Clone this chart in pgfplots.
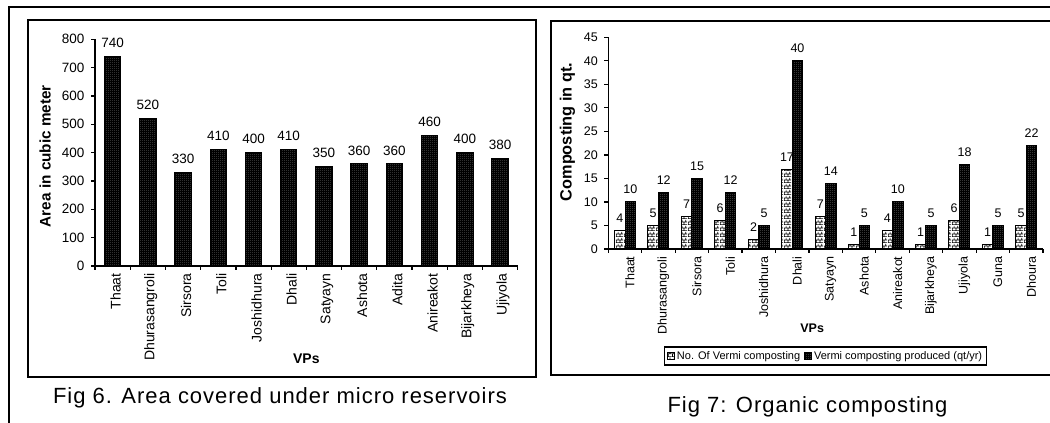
\documentclass[border=0pt]{standalone}
\usepackage{fontspec}
\setmainfont{Liberation Sans}
\newfontfamily\capfont[LetterSpace=4.5]{Liberation Sans}
\usepackage{pgfplots}
\pgfplotsset{compat=1.18}
\usetikzlibrary{patterns}

\pgfdeclarepatternformonly{fdots}{\pgfqpoint{0pt}{0pt}}{\pgfqpoint{2pt}{2pt}}{\pgfqpoint{2pt}{2pt}}{%
  \pgfpathrectangle{\pgfqpoint{0.6pt}{0.6pt}}{\pgfqpoint{0.7pt}{0.7pt}}\pgfusepathqfill}
\pgfdeclarepatternformonly{mybricks}{\pgfqpoint{0pt}{0pt}}{\pgfqpoint{8pt}{6pt}}{\pgfqpoint{8pt}{6pt}}{%
  \pgfsetlinewidth{0.8pt}%
  \pgfpathmoveto{\pgfqpoint{0pt}{0.4pt}}\pgfpathlineto{\pgfqpoint{8pt}{0.4pt}}%
  \pgfpathmoveto{\pgfqpoint{0pt}{3.4pt}}\pgfpathlineto{\pgfqpoint{8pt}{3.4pt}}%
  \pgfpathmoveto{\pgfqpoint{0.4pt}{0.4pt}}\pgfpathlineto{\pgfqpoint{0.4pt}{3.4pt}}%
  \pgfpathmoveto{\pgfqpoint{4.4pt}{0.4pt}}\pgfpathlineto{\pgfqpoint{4.4pt}{3.4pt}}%
  \pgfpathmoveto{\pgfqpoint{2.4pt}{3.4pt}}\pgfpathlineto{\pgfqpoint{2.4pt}{6pt}}%
  \pgfpathmoveto{\pgfqpoint{6.4pt}{3.4pt}}\pgfpathlineto{\pgfqpoint{6.4pt}{6pt}}%
  \pgfusepathqstroke}

\pgfplotstableread{
x val
0 740
1 520
2 330
3 410
4 400
5 410
6 350
7 360
8 360
9 460
10 400
11 380
}\areatable

\pgfplotstableread{
x num prod
0 4 10
1 5 12
2 7 15
3 6 12
4 2 5
5 17 40
6 7 14
7 1 5
8 4 10
9 1 5
10 6 18
11 1 5
12 5 22
}\comptable

\begin{document}
\begin{tikzpicture}[x=1pt,y=1pt]
\useasboundingbox (0,0) rectangle (1050,423);
% frames
\draw[line width=2pt] (9,0) -- (9,415.5) -- (1052,415.5);
\draw[line width=2pt] (27.5,46.3) rectangle (536,402.5);
\draw[line width=2pt] (1055,48) -- (551,48) -- (551,402.3) -- (1055,402.3);

\pgfplotsset{
  common/.style={
    scale only axis,
    axis x line*=bottom,
    axis y line*=left,
    axis line style={-, line width=1.6pt},
    tick align=outside,
    major tick length=4pt,
    ytick style={line width=1.2pt, black},
    xtick style={draw=none},
    extra x tick style={xtick style={draw=black, line width=1.2pt}},
    extra x tick labels={},
    ymin=0,
    clip=false,
    enlargelimits=false,
    /pgf/number format/assume math mode=true,
  }
}

% Left chart
\begin{axis}[common,
  at={(95pt,157pt)}, anchor=south west,
  width=422.7pt, height=226.7pt,
  xmin=-0.5, xmax=11.5, ymax=800,
  ytick={0,100,...,800},
  xtick={0,...,11},
  extra x ticks={-0.5,0.5,...,11.5},
  xticklabels={Thaat,Dhurasangroli,Sirsora,Toli,Joshidhura,Dhali,Satyayn,Ashota,Adita,Anireakot,Bijarkheya,Ujiyola},
  xticklabel style={rotate=90, anchor=east, font=\fontsize{14}{16}\selectfont, yshift=-3pt},
  yticklabel style={font=\fontsize{13.5}{15}\selectfont, xshift=-3pt},
  ylabel={\bfseries Area in cubic meter},
  ylabel style={at={(axis description cs:-0.118,0.485)}, anchor=center, font=\fontsize{15.3}{17}\selectfont},
  xlabel={\bfseries VPs},
  xlabel style={at={(axis description cs:0.5,-0.41)}, anchor=center, font=\fontsize{14}{16}\selectfont},
  nodes near coords,
  nodes near coords style={font=\fontsize{13.5}{15}\selectfont, anchor=south, yshift=5pt},
  point meta=explicit,
]
\addplot[ybar, bar width=16.5pt, draw=black, line width=1pt, fill=black,
  postaction={pattern=fdots, pattern color=black!55}]
  table[x=x, y=val, meta=val] {\areatable};
\end{axis}

% Right chart
\begin{axis}[common,
  at={(608.3pt,174pt)}, anchor=south west,
  width=434.7pt, height=211.7pt,
  xmin=-0.5, xmax=12.5, ymax=45,
  ytick={0,5,...,45},
  xtick={0,...,12},
  extra x ticks={-0.5,0.5,...,12.5},
  xticklabels={Thaat,Dhurasangroli,Sirsora,Toli,Joshidhura,Dhali,Satyayn,Ashota,Anireakot,Bijarkheya,Ujiyola,Guna,Dhoura},
  xticklabel style={rotate=90, anchor=east, font=\fontsize{12.5}{14}\selectfont, yshift=-5pt},
  yticklabel style={font=\fontsize{12.5}{14}\selectfont, xshift=-3pt},
  ylabel={\bfseries Composting in qt.},
  ylabel style={at={(axis description cs:-0.094,0.553)}, anchor=center, font=\fontsize{16.3}{18}\selectfont},
  xlabel={\bfseries VPs},
  xlabel style={at={(axis description cs:0.469,-0.373)}, anchor=center, font=\fontsize{12.5}{14}\selectfont},
  ybar=0pt, bar width=10.5pt,
  nodes near coords,
  nodes near coords style={font=\fontsize{12.5}{14}\selectfont, anchor=south, yshift=4pt},
  point meta=explicit,
  legend columns=2,
  legend style={at={(axis description cs:0.5,-0.458)}, anchor=north,
    draw=black, line width=1.6pt, inner sep=2.5pt,
    font=\fontsize{11}{12}\selectfont,
    /tikz/every even column/.append style={column sep=2pt}},
  legend image code/.code={\draw[#1, line width=0.8pt] (0pt,-3.5pt) rectangle (7pt,3.5pt);},
]
\addplot[draw=black, line width=1pt, fill=white,
  postaction={pattern=mybricks, pattern color=black}]
  table[x=x, y=num, meta=num] {\comptable};
\addplot[draw=black, line width=1pt, fill=black,
  postaction={pattern=fdots, pattern color=black!50}]
  table[x=x, y=prod, meta=prod] {\comptable};
\legend{No. Of Vermi composting, Vermi composting produced (qt/yr)}
\end{axis}

% captions
\node[anchor=base, font=\capfont\fontsize{22}{24}\selectfont] at (280,19.7) {Fig 6. Area covered under micro reservoirs};
\node[anchor=base, font=\capfont\fontsize{22}{24}\selectfont] at (807.5,10.7) {Fig 7: Organic composting};
\end{tikzpicture}
\end{document}
